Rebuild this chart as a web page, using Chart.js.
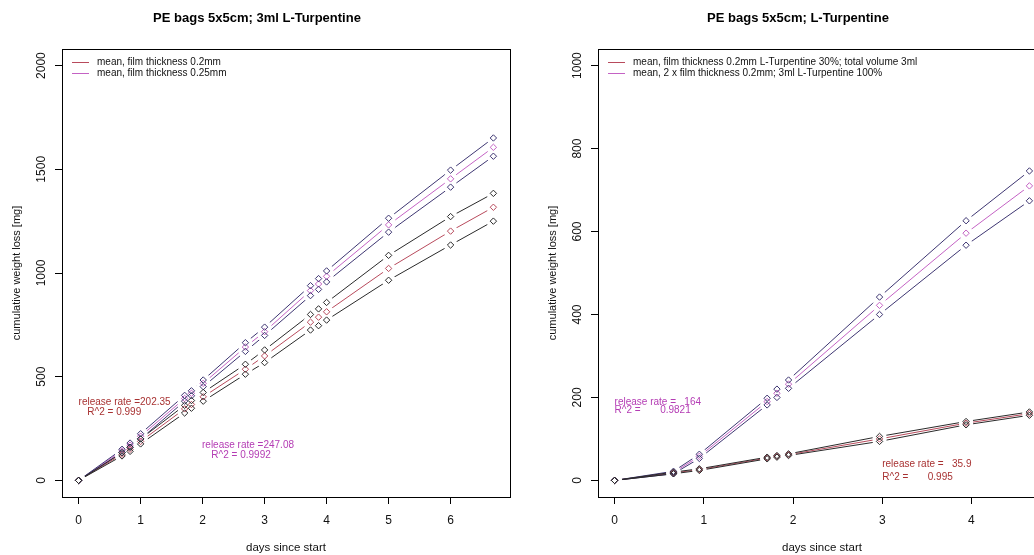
<!DOCTYPE html>
<html>
<head>
<meta charset="utf-8">
<script src="https://cdn.jsdelivr.net/npm/chart.js@4.4.1/dist/chart.umd.min.js"></script>
<style>
  html, body { margin: 0; padding: 0; background: #fff; overflow: hidden; width: 1034px; height: 555px; }
  .panel { position: absolute; top: 0; width: 517px; height: 555px; }
  #panelA { left: 0; }
  #panelB { left: 536px; }
</style>
</head>
<body>
<div class="panel" id="panelA"><canvas id="chartA" width="517" height="555"></canvas></div>
<div class="panel" id="panelB"><canvas id="chartB" width="517" height="555"></canvas></div>
<script>
// ---- Left panel: PE bags 5x5cm, 3 ml L-Turpentine, two film thicknesses ----
const leftTitle = 'PE bags 5x5cm; 3ml L-Turpentine';
const leftDays = [0, 0.70, 0.83, 1.0, 1.71, 1.82, 2.01, 2.69, 3.0, 3.74, 3.87, 4.0, 5.0, 6.0, 6.69];
const film02Mean = [0, 126, 150, 188, 345, 366, 403, 536, 600, 763, 787, 813, 1022, 1202, 1317];
const film02High = [0, 134, 160, 200, 362, 385, 424, 560, 629, 800, 827, 858, 1085, 1272, 1384];
const film02Low  = [0, 118, 140, 176, 325, 348, 382, 512, 568, 725, 746, 773, 965, 1135, 1250];
const film025Mean = [0, 142, 170, 213, 395, 420, 468, 643, 717, 915, 947, 984, 1232, 1454, 1606];
const film025High = [0, 150, 180, 225, 410, 432, 484, 664, 739, 939, 973, 1010, 1264, 1496, 1651];
const film025Low  = [0, 134, 160, 200, 382, 408, 452, 622, 699, 891, 921, 957, 1197, 1414, 1563];
const leftLegend = ['mean, film thickness 0.2mm', 'mean, film thickness 0.25mm'];
const leftRates = [202.35, 247.08];
const leftR2 = [0.999, 0.9992];
const leftXTicks = [0, 1, 2, 3, 4, 5, 6];
const leftYTicks = [0, 500, 1000, 1500, 2000];

// ---- Right panel: PE bags 5x5cm, L-Turpentine 30% vs 100% ----
const rightTitle = 'PE bags 5x5cm; L-Turpentine';
const rightDays = [0, 0.66, 0.95, 1.71, 1.82, 1.95, 2.97, 3.94, 4.65];
const mix30Mean = [0, 18, 26, 54, 58, 62, 100, 138, 161];
const mix30High = [0, 20, 28, 56, 60, 64, 106, 142, 165];
const mix30Low  = [0, 16, 24, 52, 56, 60, 94, 134, 157];
const pure100Mean = [0, 19, 58, 190, 210, 232, 422, 596, 710];
const pure100High = [0, 22, 63, 198, 220, 242, 442, 626, 746];
const pure100Low  = [0, 16, 53, 182, 200, 222, 400, 567, 674];
const rightLegend = ['mean, film thickness 0.2mm L-Turpentine 30%; total volume 3ml',
                     'mean, 2 x film thickness 0.2mm; 3ml L-Turpentine 100%'];
const rightRates = ['164', '35.9'];
const rightR2 = ['0.9821', '0.995'];
const rightXTicks = [0, 1, 2, 3, 4];
const rightYTicks = [0, 200, 400, 600, 800, 1000];

// colours
const RED_MEAN = '#b84a5c';
const MAG_MEAN = '#c462c4';
const RED_SD = '#2a2a2a';
const MAG_SD = '#3e3672';
const RED_TEXT = '#a83232';
const MAG_TEXT = '#b43cb4';
const FONT = '"Liberation Sans", Arial, sans-serif';

// Each series is drawn as: a line, then a white halo under every point
// (so lines stop short of the symbols), then the symbols on top.
function seriesSets(days, values, color) {
  const pts = days.map((d, i) => ({ x: d, y: values[i] }));
  return [
    { data: pts, borderColor: color, borderWidth: 1, pointRadius: 0, showLine: true, order: 3, fill: false, tension: 0 },
    { data: pts, showLine: false, pointStyle: 'circle', pointRadius: 7, pointBorderWidth: 0,
      pointBackgroundColor: '#ffffff', pointBorderColor: '#ffffff', order: 2 },
    { data: pts, showLine: false, pointStyle: 'rectRot', pointRadius: 3.2, pointBorderWidth: 1,
      pointBorderColor: color, pointBackgroundColor: 'rgba(255,255,255,0)', order: 1 }
  ];
}

// Frame, rotated y tick labels, y axis title, main title, legend and fit annotations
const decorPlugin = {
  id: 'decor',
  afterDraw(chart, args, opts) {
    const ctx = chart.ctx;
    const a = chart.chartArea;
    const ys = chart.scales.y, xs = chart.scales.x;
    ctx.save();
    // plot frame
    ctx.strokeStyle = '#000';
    ctx.lineWidth = 1;
    ctx.strokeRect(Math.round(a.left) + 0.5, Math.round(a.top) + 0.5,
                   Math.round(a.right - a.left), Math.round(a.bottom - a.top));
    // y tick labels, written vertically
    ctx.fillStyle = '#111';
    ctx.font = '12px ' + FONT;
    ctx.textAlign = 'center';
    ctx.textBaseline = 'middle';
    opts.yTicks.forEach(v => {
      ctx.save();
      ctx.translate(a.left - 20, ys.getPixelForValue(v));
      ctx.rotate(-Math.PI / 2);
      ctx.fillText(String(v), 0, 0);
      ctx.restore();
    });
    // y axis title
    ctx.save();
    ctx.font = '11px ' + FONT;
    ctx.translate(a.left - 45, (a.top + a.bottom) / 2);
    ctx.rotate(-Math.PI / 2);
    ctx.fillText(opts.yTitle, 0, 0);
    ctx.restore();
    // main title
    ctx.font = 'bold 13px ' + FONT;
    ctx.fillStyle = '#000';
    ctx.fillText(opts.title, opts.titleX, 18);
    // legend inside the frame
    ctx.font = '10px ' + FONT;
    ctx.textAlign = 'left';
    opts.legend.forEach((item, i) => {
      const y = a.top + 13 + i * 11;
      ctx.strokeStyle = item.color;
      ctx.beginPath();
      ctx.moveTo(a.left + 10, y + 0.5);
      ctx.lineTo(a.left + 27, y + 0.5);
      ctx.stroke();
      ctx.fillStyle = '#111';
      ctx.fillText(item.text, a.left + 35, y);
    });
    // regression annotations, placed in data coordinates
    ctx.font = '10px ' + FONT;
    opts.notes.forEach(n => {
      ctx.fillStyle = n.color;
      ctx.fillText(n.text, xs.getPixelForValue(n.x), ys.getPixelForValue(n.y));
    });
    ctx.restore();
  }
};

function makeChart(id, cfg) {
  return new Chart(document.getElementById(id), {
    type: 'scatter',
    data: { datasets: cfg.datasets },
    options: {
      responsive: false,
      animation: false,
      events: [],
      layout: { padding: { left: 0, right: 7, top: 49, bottom: 0 } },
      plugins: {
        legend: { display: false },
        tooltip: { enabled: false },
        decor: cfg.decor
      },
      scales: {
        x: {
          type: 'linear', min: cfg.xMin, max: cfg.xMax,
          afterBuildTicks: s => { s.ticks = cfg.xTicks.map(v => ({ value: v })); },
          afterFit: s => { s.height = 58; },
          grid: { display: true, drawOnChartArea: false, drawTicks: true, tickLength: 7, color: '#000', lineWidth: 1 },
          border: { display: true, color: '#000' },
          ticks: { color: '#111', font: { size: 12, family: FONT }, padding: 9, maxRotation: 0, autoSkip: false },
          title: { display: true, text: 'days since start', color: '#111', font: { size: 11.5, family: FONT }, padding: { top: 0, bottom: 0 } }
        },
        y: {
          type: 'linear', min: cfg.yMin, max: cfg.yMax,
          afterBuildTicks: s => { s.ticks = cfg.decor.yTicks.map(v => ({ value: v })); },
          afterFit: s => { s.width = 62; },
          grid: { display: true, drawOnChartArea: false, drawTicks: true, tickLength: 7, color: '#000', lineWidth: 1 },
          border: { display: true, color: '#000' },
          ticks: { display: false }
        }
      }
    },
    plugins: [decorPlugin]
  });
}

makeChart('chartA', {
  xMin: -0.268, xMax: 6.958, yMin: -80, yMax: 2080, xTicks: leftXTicks,
  datasets: [].concat(
    seriesSets(leftDays, film02High, RED_SD),
    seriesSets(leftDays, film02Low, RED_SD),
    seriesSets(leftDays, film025High, MAG_SD),
    seriesSets(leftDays, film025Low, MAG_SD),
    seriesSets(leftDays, film02Mean, RED_MEAN),
    seriesSets(leftDays, film025Mean, MAG_MEAN)
  ),
  decor: {
    title: leftTitle, titleX: 257, yTitle: 'cumulative weight loss [mg]', yTicks: leftYTicks,
    legend: [{ text: leftLegend[0], color: RED_MEAN }, { text: leftLegend[1], color: MAG_MEAN }],
    notes: [
      { text: 'release rate =' + leftRates[0], color: RED_TEXT, x: 0.0, y: 378 },
      { text: 'R^2 = ' + leftR2[0], color: RED_TEXT, x: 0.14, y: 330 },
      { text: 'release rate =' + leftRates[1], color: MAG_TEXT, x: 1.99, y: 170 },
      { text: 'R^2 = ' + leftR2[1], color: MAG_TEXT, x: 2.14, y: 122 }
    ]
  }
});

makeChart('chartB', {
  xMin: -0.186, xMax: 4.836, yMin: -40, yMax: 1040, xTicks: rightXTicks,
  datasets: [].concat(
    seriesSets(rightDays, mix30High, RED_SD),
    seriesSets(rightDays, mix30Low, RED_SD),
    seriesSets(rightDays, pure100High, MAG_SD),
    seriesSets(rightDays, pure100Low, MAG_SD),
    seriesSets(rightDays, mix30Mean, RED_MEAN),
    seriesSets(rightDays, pure100Mean, MAG_MEAN)
  ),
  decor: {
    title: rightTitle, titleX: 262, yTitle: 'cumulative weight loss [mg]', yTicks: rightYTicks,
    legend: [{ text: rightLegend[0], color: RED_MEAN }, { text: rightLegend[1], color: MAG_MEAN }],
    notes: [
      { text: 'release rate =   ' + rightRates[0], color: MAG_TEXT, x: 0.0, y: 188 },
      { text: 'R^2 =       ' + rightR2[0], color: MAG_TEXT, x: 0.0, y: 170 },
      { text: 'release rate =   ' + rightRates[1], color: RED_TEXT, x: 3.0, y: 39 },
      { text: 'R^2 =       ' + rightR2[1], color: RED_TEXT, x: 3.0, y: 8 }
    ]
  }
});
</script>
</body>
</html>
